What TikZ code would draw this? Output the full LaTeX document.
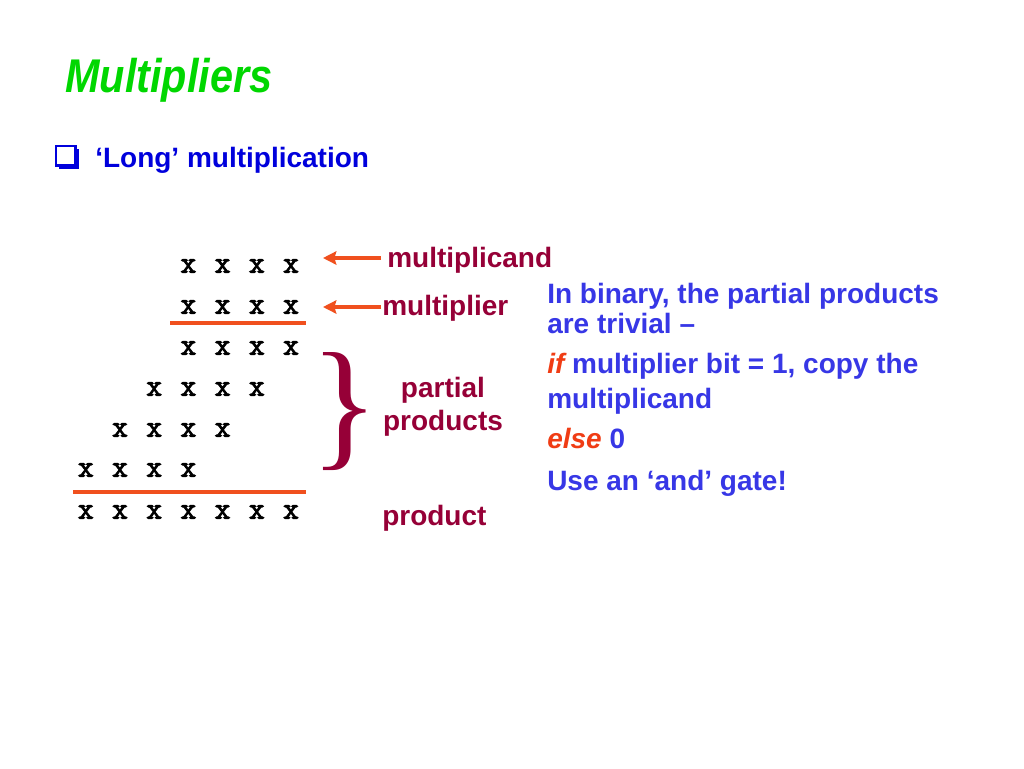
\documentclass[tikz,border=0pt]{standalone}
\usepackage{fontspec}
\setmainfont{Liberation Sans}
\newfontfamily\bracefont{Liberation Serif}
\newfontfamily\bitfont{Latin Modern Mono}[FakeBold=3]
\usetikzlibrary{arrows.meta,positioning}
\definecolor{titleCol}{RGB}{0,215,0}
\definecolor{headCol}{RGB}{0,0,220}
\definecolor{noteCol}{RGB}{55,55,230}
\definecolor{labCol}{RGB}{150,0,55}
\definecolor{ruleCol}{RGB}{240,80,30}
\definecolor{hotCol}{RGB}{240,60,20}
\tikzset{
  bit/.style={inner sep=0pt,font=\bitfont\fontsize{23}{23}\selectfont},
  lab/.style={anchor=base west,inner sep=0pt,text=labCol,align=center,
              font=\bfseries\fontsize{21}{25}\selectfont},
  note/.style={anchor=base west,inner sep=0pt,text=noteCol,
               font=\bfseries\fontsize{21}{25}\selectfont},
  rulel/.style={draw=ruleCol,line width=3pt},
  pointer/.style={draw=ruleCol,line width=2.6pt,
                  -{Stealth[length=10pt,width=10pt,inset=1.5pt]}},
}

\begin{document}
\begin{tikzpicture}[x=0.75pt,y=-0.75pt]
    \useasboundingbox[fill=white] (0,0) rectangle (1024,768);
    % --- title and bullet ---
    \node[anchor=base west,inner sep=0pt,text=titleCol] (title) at (65,92)
        {\scalebox{0.875}[1]{\fontsize{35.5}{35.5}\selectfont\bfseries\itshape Multipliers}};
    \fill[headCol] (58.5,148.5) rectangle (78.5,168.5);
    \draw[headCol,fill=white,line width=1.6pt] (56,146) rectangle (75.5,165.5);
    \node[anchor=base west,inner sep=0pt,text=headCol,font=\bfseries\fontsize{21}{25}\selectfont]
        (head) at (95,167) {‘Long’ multiplication};
    % --- the bits: row/y/first column/last column (column 0 is rightmost) ---
    \foreach \r/\y/\a/\b in {1/266/0/3, 2/307/0/3, 3/348/0/3, 4/389/1/4,
                             5/430/2/5, 6/470/3/6, 7/512/0/6}
      \foreach \k in {\a,...,\b}
        \node[bit] (b-\r-\k) at ({291-34.2*\k},\y) {x};
    % --- rules under multiplier and partial products ---
    \draw[rulel] (170,323) -- (306,323);
    \draw[rulel] (73,492) -- (306,492);
    % --- labels on the left block ---
    \node[lab] (mcand) at (387,267) {multiplicand};
    \node[lab] (mplier) at (382,315) {multiplier};
    \coordinate (mcandTail) at (381,258);
    \coordinate (mcandTip)  at (323,258);
    \coordinate (mplierTail) at (381,307);
    \coordinate (mplierTip)  at (323,307);
    \draw[pointer] (mcandTail) -- (mcandTip);
    \draw[pointer] (mplierTail) -- (mplierTip);
    \node[inner sep=0pt,text=labCol] (brace) at (345,412)
        {\bracefont\fontsize{107}{107}\selectfont\}};
    \node[lab,anchor=base] (partial) at (443,397) {partial};
    \node[lab,anchor=base] (pprod) at (443,430) {products};
    \node[lab] (prod) at (382,525) {product};
    % --- note on the right ---
    \node[note] (n1) at (547,303) {In binary, the partial products};
    \node[note] (n2) at (547,333) {are trivial --};
    \node[note] (n3) at (547,373) {{\color{hotCol}\itshape if} multiplier bit = 1, copy the};
    \node[note] (n4) at (547,408) {multiplicand};
    \node[note] (n5) at (547,448) {{\color{hotCol}\itshape else} 0};
    \node[note] (n6) at (547,490) {Use an ‘and’ gate!};
  \end{tikzpicture}
\end{document}
